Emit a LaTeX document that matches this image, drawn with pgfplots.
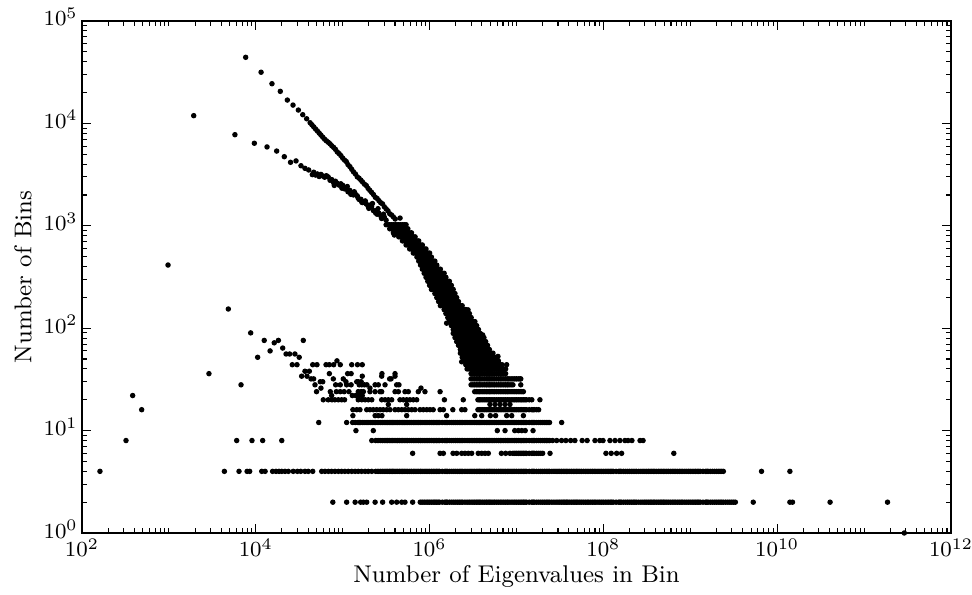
\documentclass[border=0pt]{standalone}
\usepackage{pgfplots}
\pgfplotsset{compat=1.18}
\usetikzlibrary{calc}
\begin{document}
\begin{tikzpicture}
\begin{axis}[
  name=ax,
  scale only axis,
  width=321.85bp, height=189.63bp,
  xmode=log, ymode=log,
  xmin=1e2, xmax=1e12, ymin=1, ymax=1e5,
  clip=false,
  axis line style={line width=0.6bp},
  tick style={line width=0.4bp, black},
  major tick length=3.5bp, minor tick length=1.7bp,
  tick align=inside,
  xtick pos=both, ytick pos=both,
  xticklabel pos=lower, yticklabel pos=left,
  xtick={1e2,1e4,1e6,1e8,1e10,1e12},
  ytick={1,10,100,1000,1e4,1e5},
  minor xtick={2e2,3e2,4e2,5e2,6e2,7e2,8e2,9e2,1e3,2e3,3e3,4e3,5e3,6e3,7e3,8e3,9e3,2e4,3e4,4e4,5e4,6e4,7e4,8e4,9e4,1e5,2e5,3e5,4e5,5e5,6e5,7e5,8e5,9e5,2e6,3e6,4e6,5e6,6e6,7e6,8e6,9e6,1e7,2e7,3e7,4e7,5e7,6e7,7e7,8e7,9e7,2e8,3e8,4e8,5e8,6e8,7e8,8e8,9e8,1e9,2e9,3e9,4e9,5e9,6e9,7e9,8e9,9e9,2e10,3e10,4e10,5e10,6e10,7e10,8e10,9e10,1e11,2e11,3e11,4e11,5e11,6e11,7e11,8e11,9e11},
  minor ytick={2,3,4,5,6,7,8,9,20,30,40,50,60,70,80,90,200,300,400,500,600,700,800,900,2000,3000,4000,5000,6000,7000,8000,9000,2e4,3e4,4e4,5e4,6e4,7e4,8e4,9e4},
  tick label style={font=\fontsize{8.5}{10}\selectfont},
  xticklabel style={inner sep=0pt, yshift=-2.0bp},
  yticklabel style={inner sep=0pt, anchor=base east, xshift=-1.4bp, yshift=-1.85bp},
  xlabel={Number of Eigenvalues in Bin},
  ylabel={Number of Bins},
  label style={font=\fontsize{9}{11}\selectfont},
  xlabel style={at={(axis description cs:0.5,-0.0976)}, anchor=base},
  ylabel style={at={(axis description cs:-0.068,0.5)}, anchor=center},
  dots/.style={only marks, mark=*, mark size=0.8bp, mark options={fill=black, draw=none}},
]
% isolated and cloud points
\addplot[dots] coordinates {
(161,4) (321,8) (383,22) (486,16) (977,414) (2890,36) (4830,154) (6760,28)
(8730,90) (1.25e4,76) (1.05e4,52) (1.46e4,60) (1.63e4,72) (1.82e4,76) (2.04e4,64)
(2.23e4,56) (2.45e4,56) (2.82e4,56) (3.16e4,52) (3.52e4,76)
(2.63e4,44) (2.98e4,44) (4.52e4,44) (5.06e4,44) (6.43e4,44) (7.02e4,44) (7.87e4,44)
(8.59e4,48) (9.38e4,44) (1.27e5,44) (1.48e5,44) (1.68e5,44)
(3.68e4,38) (4.13e4,38) (3.37e4,34) (3.88e4,34) (1.68e5,34) (2.81e5,34) (4.0e5,34)
(7.02e4,36) (1.14e5,36) (1.25e5,36) (2.83e5,36) (4.0e5,36)
(5.52e4,30) (5.89e4,30) (1.09e5,30) (1.45e5,30) (1.51e5,30) (1.63e5,30)
(5.62e4,26) (2.06e5,26) (7.96e5,26)
(7.46e4,22) (1.29e5,22) (1.41e5,22) (1.54e5,22) (1.68e5,22)
(4.32e4,32) (4.63e4,32) (7.8e4,32) (1.016e5,32) (3.47e5,32) (3.6e5,32)
(3.35e5,18) (5.45e5,18) (4.95e6,18) (5.66e6,18) (6.46e6,18) (7.38e6,18) (8.41e6,18)
(2.9e11,1)
};
% upper branch
\addplot[dots] coordinates {
(7650,44200) (11500,31600) (15350,24400) (19140,20560) (23070,16900) (26800,15100)
(30900,13500) (34700,12160) (38500,11100)
(42200,10140) (44200,9700) (46400,9250) (48700,8820) (51100,8440) (53600,8050) (56200,7690)
(59000,7340) (61900,7010) (64900,6760) (68100,6550) (71500,6320) (75000,6040) (78700,5830)
(82500,5580) (86600,5260) (90900,5070) (95300,4850) (100000,4580) (105000,4380) (110000,4240)
(115000,3960) (121000,3780) (127000,3560) (133000,3365) (140000,3210) (147000,3010) (154000,2920)
(162000,2790) (169000,2680) (178000,2550) (187000,2470) (196000,2320) (205000,2220) (215000,2120)
(226000,2020) (237000,1900) (249000,1850) (261000,1760) (274000,1680) (287000,1640) (301000,1535)
(316000,1465) (332000,1400) (348000,1310) (365000,1275) (383000,1220) (402000,1165)
};
% lower branch
\addplot[dots] coordinates {
(1930,11900) (5750,7760) (9620,6400) (13460,5890) (17380,5370) (21280,4730) (25100,4170)
(29040,4300) (33100,3860) (36800,3640) (40600,3510) (44700,3160)
(46400,3335) (48700,3130) (51100,3210) (53600,3030) (56200,3175) (59000,3070) (61900,2980)
(64900,3085) (68100,3000) (71500,2785) (75000,2820) (78700,2630) (82500,2725) (86600,2605)
(90900,2495) (95300,2570) (100000,2485) (105000,2295) (110000,2310) (115000,2150) (121000,2215)
(127000,2100) (133000,2000) (140000,2040) (147000,1965) (154000,1810) (162000,1815) (169000,1685)
(178000,1730) (187000,1635) (196000,1555) (205000,1590) (215000,1530) (226000,1405) (237000,1400)
(249000,1297) (261000,1327) (274000,1254) (287000,1191) (301000,1216) (316000,1135)
(80000,2480) (98000,2330) (113000,2420) (124000,2030) (136000,2150) (150000,1880) (166000,1700)
(182000,1750) (200000,1480) (220000,1650) (240000,1330) (255000,1470) (280000,1180) (295000,1300)
};
% main band
\addplot[dots] coordinates {
(3.16e5,1024) (3.48e5,1024) (3.83e5,1024) (4.22e5,1024) (4.64e5,1024) (5.11e5,1024)
(3.65e5,935) (4.02e5,935) (4.42e5,935) (4.87e5,935) (5.36e5,935)
(3.83e5,854) (4.22e5,854) (4.64e5,854) (5.11e5,854) (5.62e5,854) (6.19e5,854)
(4.42e5,780) (4.87e5,780) (5.36e5,780) (5.90e5,780) (6.49e5,780)
(5.11e5,712) (5.62e5,712) (6.19e5,712) (6.81e5,712) (7.50e5,712)
(5.36e5,650) (5.90e5,650) (6.49e5,650) (7.15e5,650) (7.87e5,650)
(6.19e5,594) (6.81e5,594) (7.50e5,594) (8.25e5,594) (9.09e5,594)
(6.49e5,542) (7.15e5,542) (7.87e5,542) (8.66e5,542) (9.53e5,542)
(7.50e5,495) (8.25e5,495) (9.09e5,495) (1.00e6,495)
(7.87e5,452) (8.66e5,452) (9.53e5,452) (1.05e6,452) (1.15e6,452)
(8.25e5,413) (9.09e5,413) (1.00e6,413) (1.10e6,413) (1.21e6,413)
(8.66e5,377) (9.53e5,377) (1.05e6,377) (1.15e6,377) (1.27e6,377)
(9.09e5,344) (1.00e6,344) (1.10e6,344) (1.21e6,344) (1.33e6,344) (1.47e6,344)
(9.53e5,314) (1.05e6,314) (1.15e6,314) (1.27e6,314) (1.40e6,314) (1.54e6,314)
(1.00e6,287) (1.10e6,287) (1.21e6,287) (1.33e6,287) (1.47e6,287) (1.62e6,287)
(1.05e6,262) (1.15e6,262) (1.27e6,262) (1.40e6,262) (1.54e6,262) (1.69e6,262)
(1.10e6,239) (1.21e6,239) (1.33e6,239) (1.47e6,239) (1.62e6,239) (1.78e6,239)
(1.15e6,218) (1.27e6,218) (1.40e6,218) (1.54e6,218) (1.69e6,218) (1.87e6,218)
(1.21e6,199) (1.33e6,199) (1.47e6,199) (1.62e6,199) (1.78e6,199) (1.96e6,199)
(1.27e6,182) (1.40e6,182) (1.54e6,182) (1.69e6,182) (1.87e6,182) (2.05e6,182)
(1.33e6,166) (1.47e6,166) (1.62e6,166) (1.78e6,166) (1.96e6,166) (2.15e6,166) (2.37e6,166)
(1.54e6,152) (1.69e6,152) (1.87e6,152) (2.05e6,152) (2.26e6,152) (2.49e6,152)
(1.62e6,139) (1.78e6,139) (1.96e6,139) (2.15e6,139) (2.37e6,139) (2.61e6,139) (2.87e6,139)
(1.69e6,127) (1.87e6,127) (2.05e6,127) (2.26e6,127) (2.49e6,127) (2.74e6,127) (3.01e6,127)
(1.78e6,116) (1.96e6,116) (2.15e6,116) (2.37e6,116) (2.61e6,116) (2.87e6,116) (3.16e6,116)
(1.87e6,106) (2.05e6,106) (2.26e6,106) (2.49e6,106) (2.74e6,106) (3.01e6,106) (3.32e6,106)
(1.96e6,97) (2.15e6,97) (2.37e6,97) (2.61e6,97) (2.87e6,97) (3.16e6,97) (3.48e6,97)
(1.87e6,89) (2.05e6,89) (2.26e6,89) (2.49e6,89) (2.74e6,89) (3.01e6,89) (3.32e6,89) (3.65e6,89)
(1.96e6,81) (2.15e6,81) (2.37e6,81) (2.61e6,81) (2.87e6,81) (3.16e6,81) (3.48e6,81) (3.83e6,81) (4.22e6,81)
(2.05e6,74) (2.26e6,74) (2.49e6,74) (2.74e6,74) (3.01e6,74) (3.32e6,74) (3.65e6,74) (4.02e6,74) (4.42e6,74)
(2.15e6,68) (2.37e6,68) (2.61e6,68) (2.87e6,68) (3.16e6,68) (3.48e6,68) (3.83e6,68) (4.22e6,68) (4.64e6,68)
(2.26e6,62) (2.49e6,62) (2.74e6,62) (3.01e6,62) (3.32e6,62) (3.65e6,62) (4.02e6,62) (4.42e6,62) (4.87e6,62)
(2.37e6,57) (2.61e6,57) (2.87e6,57) (3.16e6,57) (3.48e6,57) (3.83e6,57) (4.22e6,57) (4.64e6,57) (5.11e6,57)
(2.49e6,52) (2.74e6,52) (3.01e6,52) (3.32e6,52) (3.65e6,52) (4.02e6,52) (4.42e6,52) (4.87e6,52) (5.36e6,52)
(2.61e6,48) (2.87e6,48) (3.16e6,48) (3.48e6,48) (3.83e6,48) (4.22e6,48) (4.64e6,48) (5.11e6,48) (5.62e6,48) (6.19e6,48)
(2.74e6,44) (3.01e6,44) (3.32e6,44) (3.65e6,44) (4.02e6,44) (4.42e6,44) (4.87e6,44) (5.36e6,44) (5.90e6,44) (6.49e6,44)
(1.57e6,112) (2.34e6,47) (2.77e6,151) (4.08e6,86) (6.12e6,53) (7.7e6,44) (4.57e5,1190) (3.93e5,813) (1.12e7,32)
};
% main band, second interleaved set
\addplot[dots] coordinates {
(3.32e5,1024) (3.65e5,1024) (4.02e5,1024) (4.42e5,1024) (4.87e5,1024) (5.36e5,1024)
(3.48e5,935) (3.83e5,935) (4.22e5,935) (4.64e5,935) (5.11e5,935) (5.62e5,935)
(4.02e5,854) (4.42e5,854) (4.87e5,854) (5.36e5,854) (5.90e5,854)
(4.64e5,780) (5.11e5,780) (5.62e5,780) (6.19e5,780) (6.81e5,780)
(4.87e5,712) (5.36e5,712) (5.90e5,712) (6.49e5,712) (7.15e5,712)
(5.62e5,650) (6.19e5,650) (6.81e5,650) (7.50e5,650) (8.25e5,650)
(5.90e5,594) (6.49e5,594) (7.15e5,594) (7.87e5,594) (8.66e5,594)
(6.81e5,542) (7.50e5,542) (8.25e5,542) (9.09e5,542) (1.00e6,542)
(7.15e5,495) (7.87e5,495) (8.66e5,495) (9.53e5,495) (1.05e6,495)
(7.50e5,452) (8.25e5,452) (9.09e5,452) (1.00e6,452) (1.10e6,452)
(7.87e5,413) (8.66e5,413) (9.53e5,413) (1.05e6,413) (1.15e6,413)
(8.25e5,377) (9.09e5,377) (1.00e6,377) (1.10e6,377) (1.21e6,377) (1.33e6,377)
(8.66e5,344) (9.53e5,344) (1.05e6,344) (1.15e6,344) (1.27e6,344) (1.40e6,344)
(9.09e5,314) (1.00e6,314) (1.10e6,314) (1.21e6,314) (1.33e6,314) (1.47e6,314)
(9.53e5,287) (1.05e6,287) (1.15e6,287) (1.27e6,287) (1.40e6,287) (1.54e6,287) (1.69e6,287)
(1.00e6,262) (1.10e6,262) (1.21e6,262) (1.33e6,262) (1.47e6,262) (1.62e6,262) (1.78e6,262)
(1.05e6,239) (1.15e6,239) (1.27e6,239) (1.40e6,239) (1.54e6,239) (1.69e6,239) (1.87e6,239)
(1.21e6,218) (1.33e6,218) (1.47e6,218) (1.62e6,218) (1.78e6,218) (1.96e6,218)
(1.27e6,199) (1.40e6,199) (1.54e6,199) (1.69e6,199) (1.87e6,199) (2.05e6,199)
(1.33e6,182) (1.47e6,182) (1.62e6,182) (1.78e6,182) (1.96e6,182) (2.15e6,182)
(1.40e6,166) (1.54e6,166) (1.69e6,166) (1.87e6,166) (2.05e6,166) (2.26e6,166)
(1.47e6,152) (1.62e6,152) (1.78e6,152) (1.96e6,152) (2.15e6,152) (2.37e6,152) (2.61e6,152)
(1.54e6,139) (1.69e6,139) (1.87e6,139) (2.05e6,139) (2.26e6,139) (2.49e6,139) (2.74e6,139)
(1.62e6,127) (1.78e6,127) (1.96e6,127) (2.15e6,127) (2.37e6,127) (2.61e6,127) (2.87e6,127)
(1.69e6,116) (1.87e6,116) (2.05e6,116) (2.26e6,116) (2.49e6,116) (2.74e6,116) (3.01e6,116) (3.32e6,116)
(1.78e6,106) (1.96e6,106) (2.15e6,106) (2.37e6,106) (2.61e6,106) (2.87e6,106) (3.16e6,106) (3.48e6,106)
(1.87e6,97) (2.05e6,97) (2.26e6,97) (2.49e6,97) (2.74e6,97) (3.01e6,97) (3.32e6,97) (3.65e6,97)
(1.96e6,89) (2.15e6,89) (2.37e6,89) (2.61e6,89) (2.87e6,89) (3.16e6,89) (3.48e6,89) (3.83e6,89)
(2.05e6,81) (2.26e6,81) (2.49e6,81) (2.74e6,81) (3.01e6,81) (3.32e6,81) (3.65e6,81) (4.02e6,81)
(2.15e6,74) (2.37e6,74) (2.61e6,74) (2.87e6,74) (3.16e6,74) (3.48e6,74) (3.83e6,74) (4.22e6,74)
(2.26e6,68) (2.49e6,68) (2.74e6,68) (3.01e6,68) (3.32e6,68) (3.65e6,68) (4.02e6,68) (4.42e6,68)
(2.37e6,62) (2.61e6,62) (2.87e6,62) (3.16e6,62) (3.48e6,62) (3.83e6,62) (4.22e6,62) (4.64e6,62)
(2.26e6,57) (2.49e6,57) (2.74e6,57) (3.01e6,57) (3.32e6,57) (3.65e6,57) (4.02e6,57) (4.42e6,57) (4.87e6,57) (5.36e6,57)
(2.37e6,52) (2.61e6,52) (2.87e6,52) (3.16e6,52) (3.48e6,52) (3.83e6,52) (4.22e6,52) (4.64e6,52) (5.11e6,52) (5.62e6,52)
(2.49e6,48) (2.74e6,48) (3.01e6,48) (3.32e6,48) (3.65e6,48) (4.02e6,48) (4.42e6,48) (4.87e6,48) (5.36e6,48) (5.90e6,48)
(2.61e6,44) (2.87e6,44) (3.16e6,44) (3.48e6,44) (3.83e6,44) (4.22e6,44) (4.64e6,44) (5.11e6,44) (5.62e6,44) (6.19e6,44) (6.81e6,44)
};
% rows 40 .. 20
\addplot[dots] coordinates {
(2.7e6,40) (3.0e6,40) (3.3e6,40) (3.6e6,40) (3.9e6,40) (4.3e6,40) (4.7e6,40) (5.1e6,40) (5.6e6,40) (6.2e6,40) (6.8e6,40) (7.5e6,40)
(2.85e6,40) (3.15e6,40) (3.45e6,40) (3.75e6,40) (4.1e6,40) (4.5e6,40) (4.9e6,40) (5.35e6,40) (5.9e6,40) (6.5e6,40) (7.15e6,40)
(3.0e6,36) (3.3e6,36) (3.6e6,36) (3.9e6,36) (4.3e6,36) (4.7e6,36) (5.1e6,36) (5.6e6,36) (6.2e6,36) (6.8e6,36) (7.5e6,36)
(3.15e6,36) (3.45e6,36) (3.75e6,36) (4.1e6,36) (4.5e6,36) (4.9e6,36) (5.35e6,36) (5.9e6,36) (6.5e6,36) (7.15e6,36)
(3.0e6,32) (3.3e6,32) (3.6e6,32) (3.9e6,32) (4.3e6,32) (4.7e6,32) (5.1e6,32) (5.6e6,32) (6.2e6,32) (6.8e6,32) (7.5e6,32) (8.2e6,32) (9.1e6,32) (1.0e7,32) (1.1e7,32)
(3.15e6,32) (3.45e6,32) (3.75e6,32) (4.1e6,32) (4.5e6,32) (4.9e6,32) (5.35e6,32) (5.9e6,32) (6.5e6,32) (7.15e6,32) (7.85e6,32) (8.65e6,32) (9.55e6,32) (1.05e7,32)
(4.8e4,28) (8.3e4,28) (9.38e4,28) (1.11e5,28) (1.25e5,28) (1.55e5,28) (1.66e5,28) (1.78e5,28) (1.9e5,28) (2.36e5,28) (2.57e5,28) (3.07e5,28) (4.18e5,28) (4.44e5,28)
(3.0e6,28) (3.3e6,28) (3.6e6,28) (3.9e6,28) (4.3e6,28) (4.7e6,28) (5.1e6,28) (5.6e6,28) (6.2e6,28) (6.8e6,28) (7.5e6,28) (8.2e6,28) (9.1e6,28) (1.12e7,28)
(3.15e6,28) (3.45e6,28) (3.75e6,28) (4.1e6,28) (4.5e6,28) (4.9e6,28) (5.35e6,28) (5.9e6,28) (6.5e6,28) (7.15e6,28) (7.85e6,28) (8.65e6,28)
(5.0e4,24) (7.2e4,24) (8.45e4,24) (9.38e4,24) (1.04e5,24) (1.18e5,24) (1.51e5,24) (1.63e5,24) (1.73e5,24) (2.06e5,24) (2.36e5,24) (2.69e5,24) (2.81e5,24) (4.0e5,24) (4.37e5,24) (5.21e5,24) (5.69e5,24) (7.41e5,24) (8.85e5,24) (1.32e6,24)
(3.3e6,24) (3.6e6,24) (3.9e6,24) (4.3e6,24) (4.7e6,24) (5.1e6,24) (5.6e6,24) (6.2e6,24) (6.8e6,24) (7.5e6,24) (8.2e6,24) (9.1e6,24) (1.0e7,24) (1.1e7,24) (1.2e7,24)
(3.45e6,24) (3.75e6,24) (4.1e6,24) (4.5e6,24) (4.9e6,24) (5.35e6,24) (5.9e6,24) (6.5e6,24) (7.15e6,24) (7.85e6,24) (8.65e6,24) (9.55e6,24) (1.05e7,24) (1.15e7,24)
(5.98e4,20) (6.82e4,20) (7.52e4,20) (8.13e4,20) (8.91e4,20) (9.72e4,20) (1.05e5,20) (1.51e5,20) (1.66e5,20) (1.81e5,20) (1.97e5,20) (2.16e5,20) (2.81e5,20) (3.07e5,20) (3.35e5,20) (3.66e5,20) (4.56e5,20) (4.98e5,20) (5.45e5,20) (5.94e5,20) (6.49e5,20) (7.1e5,20) (1.48e6,20) (2.44e6,20)
(3.6e6,20) (3.9e6,20) (4.3e6,20) (4.7e6,20) (5.1e6,20) (5.6e6,20) (6.2e6,20) (6.8e6,20) (7.5e6,20) (8.2e6,20) (9.1e6,20) (1.0e7,20) (1.1e7,20) (1.2e7,20) (1.3e7,20) (1.5e7,20) (1.86e7,20)
(3.75e6,20) (4.1e6,20) (4.5e6,20) (4.9e6,20) (5.35e6,20) (5.9e6,20) (6.5e6,20) (7.15e6,20) (7.85e6,20) (8.65e6,20) (9.55e6,20) (1.05e7,20) (1.15e7,20) (1.25e7,20) (1.4e7,20)
};
% rows 16, 14, 12, 10
\addplot[dots] coordinates {
(1.31e5,16) (1.45e5,16) (1.58e5,16) (1.89e5,16) (2.06e5,16) (2.25e5,16) (2.46e5,16) (2.69e5,16) (2.93e5,16) (3.21e5,16) (3.5e5,16) (4.0e5,16) (4.37e5,16) (4.78e5,16) (5.21e5,16) (5.69e5,16) (6.22e5,16) (6.79e5,16) (7.75e5,16) (8.47e5,16) (9.27e5,16) (1.01e6,16) (1.1e6,16) (1.32e6,16) (1.44e6,16) (1.85e6,16) (2.34e6,16) (2.55e6,16)
(3.6e6,16) (3.9e6,16) (4.3e6,16) (4.7e6,16) (5.1e6,16) (5.6e6,16) (6.2e6,16) (6.8e6,16) (7.5e6,16) (8.2e6,16) (9.1e6,16) (1.0e7,16) (1.1e7,16) (1.2e7,16) (1.3e7,16) (1.5e7,16) (1.6e7,16) (1.8e7,16)
(3.75e6,16) (4.1e6,16) (4.5e6,16) (4.9e6,16) (5.35e6,16) (5.9e6,16) (6.5e6,16) (7.15e6,16) (7.85e6,16) (8.65e6,16) (9.55e6,16) (1.05e7,16) (1.15e7,16) (1.25e7,16) (1.4e7,16) (1.55e7,16) (1.7e7,16)
(1.31e5,14) (2.36e5,14) (2.57e5,14) (2.83e5,14) (5.45e5,14) (1.57e6,14) (3.31e6,14) (3.98e6,14) (5.0e6,14) (5.75e6,14) (7.71e6,14) (8.81e6,14) (1.2e7,14)
(5.3e4,12) (1.11e5,12)
(1.3e5,12) (1.5e5,12) (1.6e5,12) (1.8e5,12) (2.0e5,12) (2.2e5,12) (2.4e5,12) (2.7e5,12) (3.0e5,12) (3.3e5,12) (3.6e5,12) (3.9e5,12) (4.3e5,12) (4.7e5,12) (5.1e5,12) (5.6e5,12) (6.2e5,12) (6.8e5,12) (7.5e5,12) (8.2e5,12) (9.1e5,12)
(1.4e5,12) (1.55e5,12) (1.7e5,12) (1.9e5,12) (2.1e5,12) (2.3e5,12) (2.55e5,12) (2.85e5,12) (3.15e5,12) (3.45e5,12) (3.75e5,12) (4.1e5,12) (4.5e5,12) (4.9e5,12) (5.35e5,12) (5.9e5,12) (6.5e5,12) (7.15e5,12) (7.85e5,12) (8.65e5,12) (9.55e5,12)
(1.0e6,12) (1.1e6,12) (1.2e6,12) (1.3e6,12) (1.5e6,12) (1.6e6,12) (1.8e6,12) (2.0e6,12) (2.2e6,12) (2.4e6,12) (2.7e6,12) (3.0e6,12) (3.3e6,12) (3.6e6,12) (3.9e6,12) (4.3e6,12) (4.7e6,12) (5.1e6,12) (5.6e6,12) (6.2e6,12) (6.8e6,12) (7.5e6,12) (8.2e6,12) (9.1e6,12)
(1.05e6,12) (1.15e6,12) (1.25e6,12) (1.4e6,12) (1.55e6,12) (1.7e6,12) (1.9e6,12) (2.1e6,12) (2.3e6,12) (2.55e6,12) (2.85e6,12) (3.15e6,12) (3.45e6,12) (3.75e6,12) (4.1e6,12) (4.5e6,12) (4.9e6,12) (5.35e6,12) (5.9e6,12) (6.5e6,12) (7.15e6,12) (7.85e6,12) (8.65e6,12) (9.55e6,12)
(1.0e7,12) (1.1e7,12) (1.2e7,12) (1.3e7,12) (1.5e7,12) (1.6e7,12) (1.8e7,12) (2.0e7,12) (2.2e7,12) (2.4e7,12) (3.31e7,12)
(1.05e7,12) (1.15e7,12) (1.25e7,12) (1.4e7,12) (1.55e7,12) (1.7e7,12) (1.9e7,12) (2.1e7,12) (2.3e7,12)
(1.42e5,10) (2.25e5,10) (6.01e6,10) (7.38e6,10) (9.55e6,10) (1.05e7,10) (1.15e7,10) (1.26e7,10) (1.55e7,10)
};
% rows 8 and 6
\addplot[dots] coordinates {
(6030,8) (9040,8) (1.2e4,8) (1.99e4,8) (2.16e5,8)
(2.4e5,8) (2.7e5,8) (3.0e5,8) (3.3e5,8) (3.6e5,8) (3.9e5,8) (4.3e5,8) (4.7e5,8) (5.1e5,8) (5.6e5,8) (6.2e5,8) (6.8e5,8) (7.5e5,8) (8.2e5,8) (9.1e5,8)
(2.55e5,8) (2.85e5,8) (3.15e5,8) (3.45e5,8) (3.75e5,8) (4.1e5,8) (4.5e5,8) (4.9e5,8) (5.35e5,8) (5.9e5,8) (6.5e5,8) (7.15e5,8) (7.85e5,8) (8.65e5,8) (9.55e5,8)
(1.0e6,8) (1.1e6,8) (1.2e6,8) (1.3e6,8) (1.5e6,8) (1.6e6,8) (1.8e6,8) (2.0e6,8) (2.2e6,8) (2.4e6,8) (2.7e6,8) (3.0e6,8) (3.3e6,8) (3.6e6,8) (3.9e6,8) (4.3e6,8) (4.7e6,8) (5.1e6,8) (5.6e6,8) (6.2e6,8) (6.8e6,8) (7.5e6,8) (8.2e6,8) (9.1e6,8)
(1.05e6,8) (1.15e6,8) (1.25e6,8) (1.4e6,8) (1.55e6,8) (1.7e6,8) (1.9e6,8) (2.1e6,8) (2.3e6,8) (2.55e6,8) (2.85e6,8) (3.15e6,8) (3.45e6,8) (3.75e6,8) (4.1e6,8) (4.5e6,8) (4.9e6,8) (5.35e6,8) (5.9e6,8) (6.5e6,8) (7.15e6,8) (7.85e6,8) (8.65e6,8) (9.55e6,8)
(1.0e7,8) (1.1e7,8) (1.2e7,8) (1.3e7,8) (1.5e7,8) (1.6e7,8) (1.8e7,8) (2.0e7,8) (2.2e7,8) (2.4e7,8)
(1.05e7,8) (1.15e7,8) (1.25e7,8) (1.4e7,8) (1.55e7,8) (1.7e7,8) (1.9e7,8) (2.1e7,8) (2.3e7,8)
(2.6e7,8) (2.9e7,8) (3.3e7,8) (3.7e7,8) (4.2e7,8) (4.7e7,8) (5.7e7,8) (6.5e7,8) (8.0e7,8) (9.1e7,8) (9.9e7,8) (1.19e8,8) (1.36e8,8) (1.55e8,8) (1.77e8,8) (1.92e8,8) (2.13e8,8) (2.64e8,8) (2.86e8,8)
(6.38e5,6) (1.32e6,6) (1.44e6,6) (1.86e6,6) (2.05e6,6) (2.34e6,6) (2.55e6,6) (2.79e6,6) (3.05e6,6) (3.63e6,6) (3.98e6,6) (4.35e6,6) (4.74e6,6) (6.7e6,6) (7.5e6,6) (8.4e6,6) (9.1e6,6)
(1.0e7,6) (1.1e7,6) (1.2e7,6) (1.3e7,6) (1.5e7,6) (1.6e7,6) (1.8e7,6) (2.0e7,6) (2.43e7,6) (1.07e8,6) (1.23e8,6) (1.42e8,6) (1.62e8,6) (6.46e8,6)
(9.55e6,6) (1.05e7,6) (1.15e7,6) (1.25e7,6) (1.4e7,6) (1.55e7,6) (1.7e7,6) (1.9e7,6)
};
% row 4
\addplot[dots] coordinates {
(4350,4) (6410,4) (7940,4) (8510,4) (1.17e4,4) (1.28e4,4) (1.56e4,4) (1.71e4,4) (1.85e4,4) (1.99e4,4) (2.17e4,4) (2.37e4,4) (2.70e4,4) (3.01e4,4) (3.29e4,4) (3.68e4,4) (4.02e4,4) (4.52e4,4)
(5.73e4,4) (6.25e4,4) (6.84e4,4) (7.46e4,4) (8.15e4,4) (8.91e4,4) (9.72e4,4) (1.06e5,4) (1.16e5,4) (1.27e5,4) (1.39e5,4) (1.51e5,4) (1.65e5,4) (1.81e5,4) (1.97e5,4) (2.16e5,4)
(2.4e5,4) (2.7e5,4) (3.0e5,4) (3.3e5,4) (3.6e5,4) (3.9e5,4) (4.3e5,4) (4.7e5,4) (5.1e5,4) (5.6e5,4) (6.2e5,4) (6.8e5,4) (7.5e5,4) (8.2e5,4) (9.1e5,4)
(2.55e5,4) (2.85e5,4) (3.15e5,4) (3.45e5,4) (3.75e5,4) (4.1e5,4) (4.5e5,4) (4.9e5,4) (5.35e5,4) (5.9e5,4) (6.5e5,4) (7.15e5,4) (7.85e5,4) (8.65e5,4) (9.55e5,4)
(1.0e6,4) (1.1e6,4) (1.2e6,4) (1.3e6,4) (1.5e6,4) (1.6e6,4) (1.8e6,4) (2.0e6,4) (2.2e6,4) (2.4e6,4) (2.7e6,4) (3.0e6,4) (3.3e6,4) (3.6e6,4) (3.9e6,4) (4.3e6,4) (4.7e6,4) (5.1e6,4) (5.6e6,4) (6.2e6,4) (6.8e6,4) (7.5e6,4) (8.2e6,4) (9.1e6,4)
(1.05e6,4) (1.15e6,4) (1.25e6,4) (1.4e6,4) (1.55e6,4) (1.7e6,4) (1.9e6,4) (2.1e6,4) (2.3e6,4) (2.55e6,4) (2.85e6,4) (3.15e6,4) (3.45e6,4) (3.75e6,4) (4.1e6,4) (4.5e6,4) (4.9e6,4) (5.35e6,4) (5.9e6,4) (6.5e6,4) (7.15e6,4) (7.85e6,4) (8.65e6,4) (9.55e6,4)
(1.0e7,4) (1.1e7,4) (1.2e7,4) (1.3e7,4) (1.5e7,4) (1.6e7,4) (1.8e7,4) (2.0e7,4) (2.2e7,4) (2.4e7,4) (2.7e7,4) (3.0e7,4) (3.3e7,4) (3.6e7,4) (3.9e7,4) (4.3e7,4) (4.7e7,4) (5.1e7,4) (5.6e7,4) (6.2e7,4) (6.8e7,4) (7.5e7,4) (8.2e7,4) (9.1e7,4)
(1.05e7,4) (1.15e7,4) (1.25e7,4) (1.4e7,4) (1.55e7,4) (1.7e7,4) (1.9e7,4) (2.1e7,4) (2.3e7,4) (2.55e7,4) (2.85e7,4) (3.15e7,4) (3.45e7,4) (3.75e7,4) (4.1e7,4) (4.5e7,4) (4.9e7,4) (5.35e7,4) (5.9e7,4) (6.5e7,4) (7.15e7,4) (7.85e7,4) (8.65e7,4) (9.55e7,4)
(1.0e8,4) (1.1e8,4) (1.2e8,4) (1.3e8,4) (1.5e8,4) (1.6e8,4) (1.8e8,4) (2.0e8,4) (2.2e8,4) (2.4e8,4) (2.7e8,4) (3.0e8,4) (3.3e8,4) (3.6e8,4) (3.9e8,4) (4.3e8,4) (4.7e8,4) (5.1e8,4) (5.6e8,4) (6.2e8,4) (6.8e8,4) (7.5e8,4) (8.2e8,4) (9.1e8,4)
(1.05e8,4) (1.15e8,4) (1.25e8,4) (1.4e8,4) (1.55e8,4) (1.7e8,4) (1.9e8,4) (2.1e8,4) (2.3e8,4) (2.55e8,4) (2.85e8,4) (3.15e8,4) (3.45e8,4) (3.75e8,4) (4.1e8,4) (4.5e8,4) (4.9e8,4) (5.35e8,4) (5.9e8,4) (6.5e8,4) (7.15e8,4) (7.85e8,4) (8.65e8,4) (9.55e8,4)
(1.0e9,4) (1.1e9,4) (1.2e9,4) (1.3e9,4) (1.5e9,4) (1.6e9,4) (1.8e9,4) (2.0e9,4) (2.2e9,4) (2.4e9,4)
(1.05e9,4) (1.15e9,4) (1.25e9,4) (1.4e9,4) (1.55e9,4) (1.7e9,4) (1.9e9,4) (2.1e9,4) (2.3e9,4)
(6.6e9,4) (1.4e10,4)
};
% row 2
\addplot[dots] coordinates {
(7.7e4,2) (1.11e5,2) (1.39e5,2) (1.61e5,2) (1.73e5,2) (1.89e5,2) (2.36e5,2) (2.88e5,2) (3.66e5,2) (4.18e5,2) (4.78e5,2) (5.21e5,2) (6.38e5,2) (7.8e5,2)
(8.2e5,2) (9.1e5,2) (8.65e5,2) (9.55e5,2)
(1.0e6,2) (1.1e6,2) (1.2e6,2) (1.3e6,2) (1.5e6,2) (1.6e6,2) (1.8e6,2) (2.0e6,2) (2.2e6,2) (2.4e6,2) (2.7e6,2) (3.0e6,2) (3.3e6,2) (3.6e6,2) (3.9e6,2) (4.3e6,2) (4.7e6,2) (5.1e6,2) (5.6e6,2) (6.2e6,2) (6.8e6,2) (7.5e6,2) (8.2e6,2) (9.1e6,2)
(1.05e6,2) (1.15e6,2) (1.25e6,2) (1.4e6,2) (1.55e6,2) (1.7e6,2) (1.9e6,2) (2.1e6,2) (2.3e6,2) (2.55e6,2) (2.85e6,2) (3.15e6,2) (3.45e6,2) (3.75e6,2) (4.1e6,2) (4.5e6,2) (4.9e6,2) (5.35e6,2) (5.9e6,2) (6.5e6,2) (7.15e6,2) (7.85e6,2) (8.65e6,2) (9.55e6,2)
(1.0e7,2) (1.1e7,2) (1.2e7,2) (1.3e7,2) (1.5e7,2) (1.6e7,2) (1.8e7,2) (2.0e7,2) (2.2e7,2) (2.4e7,2) (2.7e7,2) (3.0e7,2) (3.3e7,2) (3.6e7,2) (3.9e7,2) (4.3e7,2) (4.7e7,2) (5.1e7,2) (5.6e7,2) (6.2e7,2) (6.8e7,2) (7.5e7,2) (8.2e7,2) (9.1e7,2)
(1.05e7,2) (1.15e7,2) (1.25e7,2) (1.4e7,2) (1.55e7,2) (1.7e7,2) (1.9e7,2) (2.1e7,2) (2.3e7,2) (2.55e7,2) (2.85e7,2) (3.15e7,2) (3.45e7,2) (3.75e7,2) (4.1e7,2) (4.5e7,2) (4.9e7,2) (5.35e7,2) (5.9e7,2) (6.5e7,2) (7.15e7,2) (7.85e7,2) (8.65e7,2) (9.55e7,2)
(1.0e8,2) (1.1e8,2) (1.2e8,2) (1.3e8,2) (1.5e8,2) (1.6e8,2) (1.8e8,2) (2.0e8,2) (2.2e8,2) (2.4e8,2) (2.7e8,2) (3.0e8,2) (3.3e8,2) (3.6e8,2) (3.9e8,2) (4.3e8,2) (4.7e8,2) (5.1e8,2) (5.6e8,2) (6.2e8,2) (6.8e8,2) (7.5e8,2) (8.2e8,2) (9.1e8,2)
(1.05e8,2) (1.15e8,2) (1.25e8,2) (1.4e8,2) (1.55e8,2) (1.7e8,2) (1.9e8,2) (2.1e8,2) (2.3e8,2) (2.55e8,2) (2.85e8,2) (3.15e8,2) (3.45e8,2) (3.75e8,2) (4.1e8,2) (4.5e8,2) (4.9e8,2) (5.35e8,2) (5.9e8,2) (6.5e8,2) (7.15e8,2) (7.85e8,2) (8.65e8,2) (9.55e8,2)
(1.0e9,2) (1.1e9,2) (1.2e9,2) (1.3e9,2) (1.5e9,2) (1.6e9,2) (1.8e9,2) (2.0e9,2) (2.2e9,2) (2.4e9,2) (2.7e9,2) (3.0e9,2) (3.3e9,2)
(1.05e9,2) (1.15e9,2) (1.25e9,2) (1.4e9,2) (1.55e9,2) (1.7e9,2) (1.9e9,2) (2.1e9,2) (2.3e9,2) (2.55e9,2) (2.85e9,2) (3.15e9,2)
(5.3e9,2) (1.4e10,2) (1.5e10,2) (4.06e10,2) (1.86e11,2)
};
\end{axis}
\pgfresetboundingbox
\path[use as bounding box] ($(ax.south west)+(-30.37bp,-22.96bp)$) rectangle ($(ax.north east)+(7.78bp,7.78bp)$);
\end{tikzpicture}
\end{document}
